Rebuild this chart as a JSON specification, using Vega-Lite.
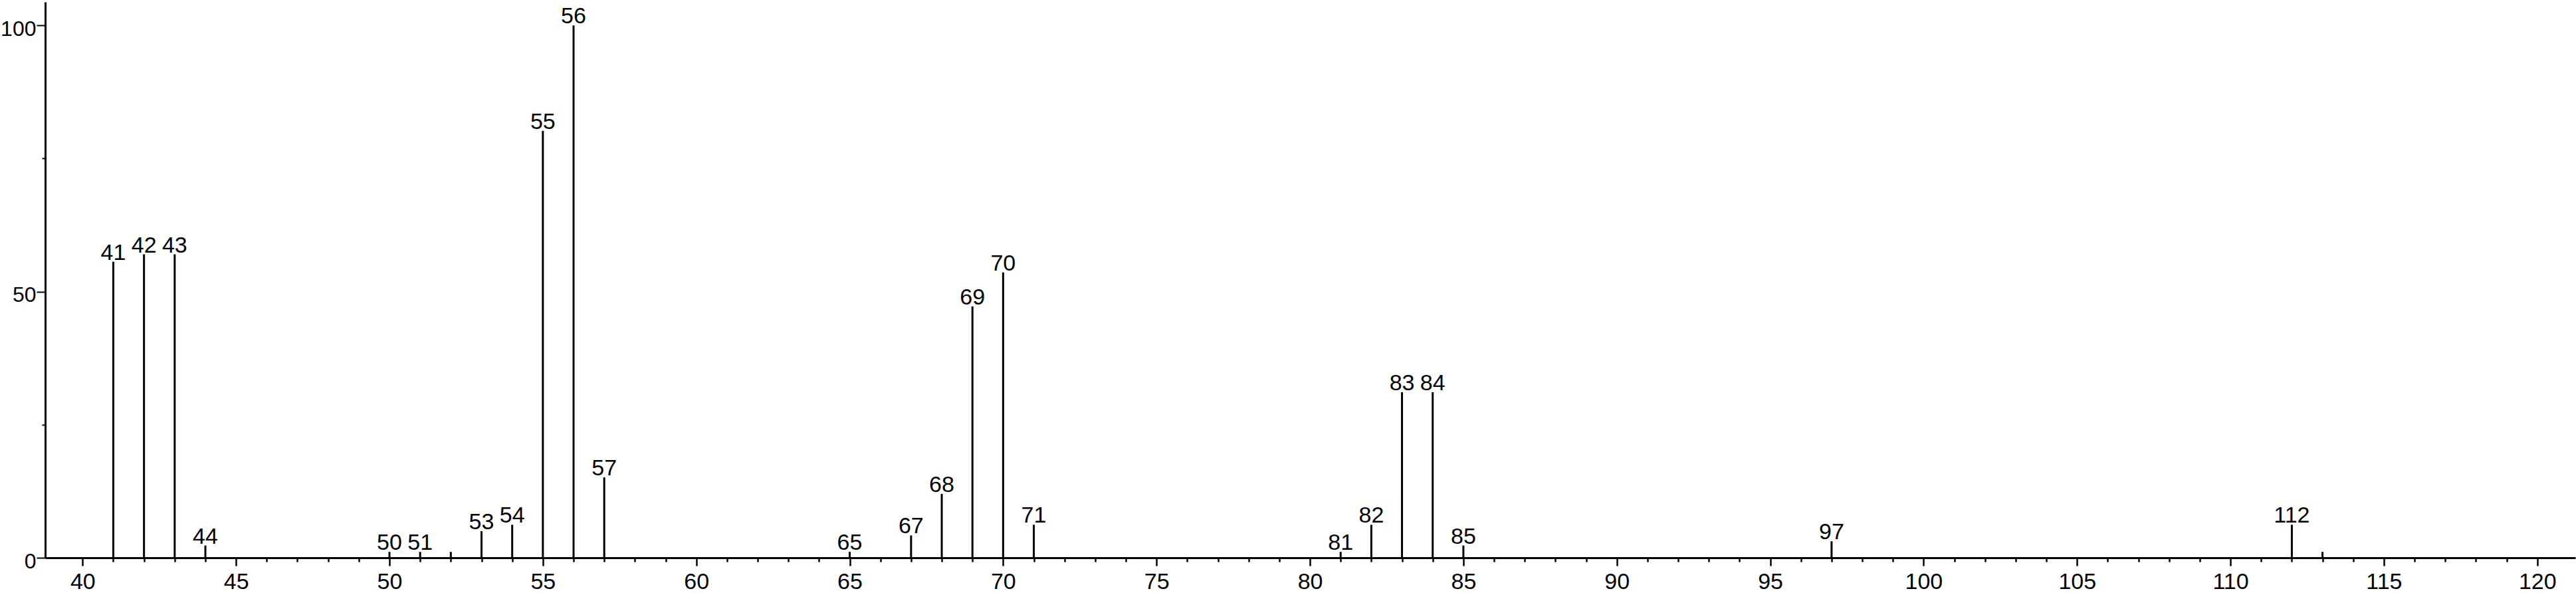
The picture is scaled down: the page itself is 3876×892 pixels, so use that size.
{
  "$schema": "https://vega.github.io/schema/vega-lite/v6.json",
  "width": 3807,
  "height": 836,
  "autosize": {"type": "none"},
  "padding": {"left": 68, "top": 3, "right": 1, "bottom": 53},
  "background": "white",
  "config": {
    "view": {"stroke": null},
    "axis": {"grid": false, "labelFont": "Liberation Sans", "labelFontSize": 34, "labelColor": "black", "domainColor": "black", "tickColor": "black", "titleFontSize": 1}
  },
  "data": {"values": [
    {"mz": 41, "intensity": 55.6, "label": "41"},
    {"mz": 42, "intensity": 57.0, "label": "42"},
    {"mz": 43, "intensity": 57.0, "label": "43"},
    {"mz": 44, "intensity": 2.3, "label": "44"},
    {"mz": 50, "intensity": 1.1, "label": "50"},
    {"mz": 51, "intensity": 1.1, "label": "51"},
    {"mz": 52, "intensity": 1.1, "label": ""},
    {"mz": 53, "intensity": 5.0, "label": "53"},
    {"mz": 54, "intensity": 6.2, "label": "54"},
    {"mz": 55, "intensity": 80.2, "label": "55"},
    {"mz": 56, "intensity": 100, "label": "56"},
    {"mz": 57, "intensity": 15.1, "label": "57"},
    {"mz": 65, "intensity": 1.1, "label": "65"},
    {"mz": 67, "intensity": 4.2, "label": "67"},
    {"mz": 68, "intensity": 12.0, "label": "68"},
    {"mz": 69, "intensity": 47.2, "label": "69"},
    {"mz": 70, "intensity": 53.6, "label": "70"},
    {"mz": 71, "intensity": 6.2, "label": "71"},
    {"mz": 81, "intensity": 1.1, "label": "81"},
    {"mz": 82, "intensity": 6.2, "label": "82"},
    {"mz": 83, "intensity": 31.1, "label": "83"},
    {"mz": 84, "intensity": 31.1, "label": "84"},
    {"mz": 85, "intensity": 2.3, "label": "85"},
    {"mz": 97, "intensity": 3.1, "label": "97"},
    {"mz": 112, "intensity": 6.2, "label": "112"},
    {"mz": 113, "intensity": 1.1, "label": ""}
  ]},
  "layer": [
    {
      "mark": {"type": "rule", "strokeWidth": 3, "color": "black"},
      "encoding": {
        "x": {"field": "mz", "type": "quantitative", "title": null,
              "scale": {"domain": [38.78, 121.24], "nice": false, "zero": false},
              "axis": {"values": [40, 45, 50, 55, 60, 65, 70, 75, 80, 85, 90, 95, 100, 105, 110, 115, 120], "tickSize": 12, "tickWidth": 2.5, "domainWidth": 3, "labelPadding": 7, "labelFlush": false, "orient": "bottom"}},
        "y": {"field": "intensity", "type": "quantitative", "title": null,
              "scale": {"domain": [0, 104.4], "nice": false},
              "axis": {"values": [0, 50, 100], "tickSize": 13, "tickWidth": 2, "domainWidth": 3, "labelPadding": 1, "labelOffset": 5, "labelFontSize": 32, "orient": "left"}},
        "y2": {"datum": 0}
      }
    },
    {
      "transform": [{"filter": "datum.label != ''"}],
      "mark": {"type": "text", "baseline": "alphabetic", "align": "center", "dy": -3, "font": "Liberation Sans", "fontSize": 34, "color": "black"},
      "encoding": {
        "x": {"field": "mz", "type": "quantitative", "title": null, "axis": null},
        "y": {"field": "intensity", "type": "quantitative", "title": null, "axis": null},
        "text": {"field": "label"}
      }
    },
    {
      "mark": {"type": "point", "opacity": 0},
      "encoding": {
        "x": {"field": "mz", "type": "quantitative", "title": null,
              "axis": {"values": [41, 42, 43, 44, 46, 47, 48, 49, 51, 52, 53, 54, 56, 57, 58, 59, 61, 62, 63, 64, 66, 67, 68, 69, 71, 72, 73, 74, 76, 77, 78, 79, 81, 82, 83, 84, 86, 87, 88, 89, 91, 92, 93, 94, 96, 97, 98, 99, 101, 102, 103, 104, 106, 107, 108, 109, 111, 112, 113, 114, 116, 117, 118, 119], "labels": false, "domain": false, "tickSize": 6, "tickWidth": 2.5, "orient": "bottom"}},
        "y": {"field": "intensity", "type": "quantitative", "title": null,
              "axis": {"values": [25, 75], "labels": false, "domain": false, "tickSize": 5, "tickWidth": 2, "orient": "left"}}
      }
    }
  ],
  "resolve": {"axis": {"x": "independent", "y": "independent"}}
}
